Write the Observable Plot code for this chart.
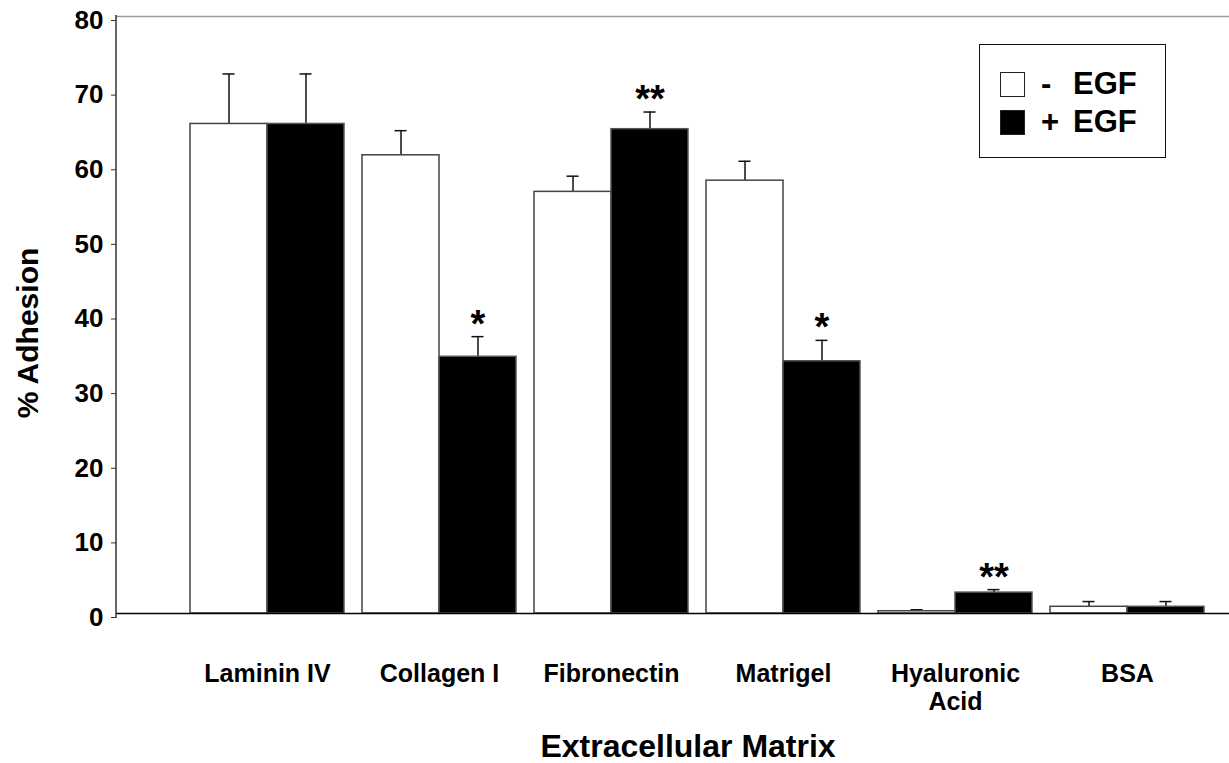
<!DOCTYPE html>
<html>
<head>
<meta charset="utf-8">
<script src="https://cdn.jsdelivr.net/npm/d3@7"></script>
<script src="https://cdn.jsdelivr.net/npm/@observablehq/plot@0.6"></script>
<style>
  html, body { margin: 0; padding: 0; background: #fff; }
  #wrap { position: relative; width: 1229px; height: 763px; font-family: "Liberation Sans", Arial, Helvetica, sans-serif; }
  #legend { position: absolute; left: 979px; top: 44px; width: 185px; height: 112px; border: 1.5px solid #111; background: #fff; box-sizing: content-box; }
  .row { position: absolute; left: 20px; display: flex; align-items: center; font-weight: bold; font-size: 31px; line-height: 30px; color: #000; }
  .sw { width: 23px; height: 23px; border: 1.5px solid #222; margin-right: 16px; }
  .sign { display: inline-block; width: 32px; }
</style>
</head>
<body>
<div id="wrap"></div>
<script>
// ---- data ----
const categories = ["Laminin IV", "Collagen I", "Fibronectin", "Matrigel", "Hyaluronic\nAcid", "BSA"];
const minusEGF = [65.6, 61.4, 56.5, 58.0, 0.3, 0.9];
const minusErr = [6.7, 3.3, 2.1, 2.6, 0.2, 0.7];
const plusEGF  = [65.6, 34.4, 64.9, 33.8, 2.8, 0.9];
const plusErr  = [6.7, 2.7, 2.3, 2.8, 0.4, 0.7];
const stars    = ["", "*", "**", "*", "**", ""];
const yTicks   = [0, 10, 20, 30, 40, 50, 60, 70, 80];
const seriesNames = ["-  EGF", "+ EGF"];

const minusData = categories.map((c, i) => ({cat: c, v: minusEGF[i], top: minusEGF[i] + minusErr[i]}));
const plusData  = categories.map((c, i) => ({cat: c, v: plusEGF[i], top: plusEGF[i] + plusErr[i], star: stars[i]}));

// layout
const xRange = [190, 1204];
const padIn = 0.105;
const step = (xRange[1] - xRange[0]) / (categories.length - padIn);
const bw = step * (1 - padIn);
const half = bw / 2;
const cap = 6;
const font = '"Liberation Sans", Arial, Helvetica, sans-serif';

const chart = Plot.plot({
  width: 1229,
  height: 763,
  marginLeft: 116,
  marginRight: 0,
  marginTop: 16,
  marginBottom: 150,
  style: {fontFamily: font, fontWeight: "bold", background: "transparent", color: "#000"},
  x: {type: "band", domain: categories, range: xRange, paddingInner: padIn, paddingOuter: 0, label: null},
  y: {domain: [0, 80], label: null},
  marks: [
    Plot.ruleY([80], {stroke: "#9a9a9a", strokeWidth: 1.5}),
    // error bars (up only)
    Plot.ruleX(minusData, {x: "cat", y1: "v", y2: "top", dx: -bw / 4, stroke: "#111", strokeWidth: 1.5}),
    Plot.tickY(minusData, {x: "cat", y: "top", insetLeft: bw / 4 - cap, insetRight: 3 * bw / 4 - cap, stroke: "#111", strokeWidth: 1.5}),
    Plot.ruleX(plusData, {x: "cat", y1: "v", y2: "top", dx: bw / 4, stroke: "#111", strokeWidth: 1.5}),
    Plot.tickY(plusData, {x: "cat", y: "top", insetLeft: 3 * bw / 4 - cap, insetRight: bw / 4 - cap, stroke: "#111", strokeWidth: 1.5}),
    // bars
    Plot.barY(minusData, {x: "cat", y: "v", insetRight: half, fill: "#fff", stroke: "#444", strokeWidth: 1.5}),
    Plot.barY(plusData, {x: "cat", y: "v", insetLeft: half, fill: "#000", stroke: "#555", strokeWidth: 1.5}),
    // significance stars
    Plot.text(plusData, {x: "cat", y: "top", text: "star", dx: bw / 4, dy: 0, lineAnchor: "bottom", fontSize: 38, fontWeight: "bold", fill: "#000"}),
    Plot.ruleY([0], {stroke: "#000", strokeWidth: 1.5}),
    // y axis line
    (index, scales, values, dims) => {
      const l = d3.create("svg:line")
        .attr("x1", dims.marginLeft).attr("x2", dims.marginLeft)
        .attr("y1", dims.marginTop - 1).attr("y2", dims.height - dims.marginBottom + 5)
        .attr("stroke", "#333").attr("stroke-width", 1.5);
      return l.node();
    },
    Plot.axisY({ticks: yTicks, tickSize: 5, tickPadding: 8, fontSize: 26, fontWeight: "bold", stroke: "#333", dy: 4, label: null}),
    Plot.axisX({tickSize: 0, tickPadding: 49, fontSize: 25, fontWeight: "bold", lineHeight: 1.1, label: null}),
    Plot.text(["% Adhesion"], {frameAnchor: "left", textAnchor: "middle", lineAnchor: "middle", rotate: -90, dx: -88, dy: 18, fontSize: 30, fontWeight: "bold", fill: "#000"}),
    Plot.text(["Extracellular Matrix"], {frameAnchor: "bottom", textAnchor: "middle", lineAnchor: "bottom", dx: 15, dy: 143, fontSize: 32, fontWeight: "bold", fill: "#000"})
  ]
});

const wrap = document.getElementById("wrap");
wrap.appendChild(chart);

// legend
const legend = document.createElement("div");
legend.id = "legend";
const fills = ["#fff", "#000"];
seriesNames.forEach((name, i) => {
  const row = document.createElement("div");
  row.className = "row";
  row.style.top = (i === 0 ? 24 : 62) + "px";
  const sw = document.createElement("div");
  sw.className = "sw";
  sw.style.background = fills[i];
  const sign = document.createElement("span");
  sign.className = "sign";
  sign.textContent = name.slice(0, 1);
  const lab = document.createElement("span");
  lab.textContent = name.slice(1).trim();
  row.appendChild(sw); row.appendChild(sign); row.appendChild(lab);
  legend.appendChild(row);
});
wrap.appendChild(legend);
</script>
</body>
</html>
